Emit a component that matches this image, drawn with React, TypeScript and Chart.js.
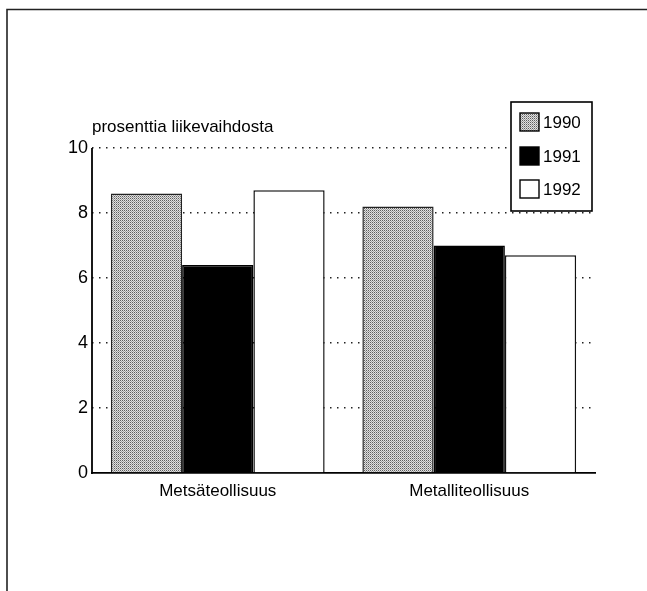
import React, { useEffect, useRef } from "react";
import { Chart, registerables } from "chart.js";

Chart.register(...registerables);

const categories = ["Metsäteollisuus", "Metalliteollisuus"];
const seriesLabels = ["1990", "1991", "1992"];
const values1990 = [8.6, 8.2];
const values1991 = [6.4, 7.0];
const values1992 = [8.7, 6.7];
const yTicks = [0, 2, 4, 6, 8, 10];
const yTitle = "prosenttia liikevaihdosta";

const FONT = '"Liberation Sans", Arial, Helvetica, sans-serif';

function makePattern(): CanvasPattern | string {
  const c = document.createElement("canvas");
  c.width = 2;
  c.height = 2;
  const g = c.getContext("2d");
  if (!g) return "#bdbdbd";
  g.fillStyle = "#e0e0e0";
  g.fillRect(0, 0, 2, 2);
  g.fillStyle = "#5e5e5e";
  g.fillRect(0, 0, 1, 1);
  g.fillStyle = "#a0a0a0";
  g.fillRect(1, 1, 1, 1);
  const p = g.createPattern(c, "repeat");
  return p || "#bdbdbd";
}

export default function App() {
  const ref = useRef<HTMLCanvasElement | null>(null);

  useEffect(() => {
    if (!ref.current) return;
    const pattern = makePattern();

    const fills = [pattern, "#000000", "#ffffff"];
    const borders = ["#222222", "#000000", "#111111"];

    const decor = {
      id: "decor",
      afterDatasetsDraw(chart: any) {
        const ctx = chart.ctx;
        const a = chart.chartArea;
        ctx.save();
        // y axis line
        ctx.strokeStyle = "#000";
        ctx.lineWidth = 1.8;
        ctx.beginPath();
        ctx.moveTo(a.left, a.top);
        ctx.lineTo(a.left, a.bottom + 0.9);
        ctx.stroke();
        ctx.restore();
      },
      afterDraw(chart: any) {
        const ctx = chart.ctx;
        const a = chart.chartArea;
        ctx.save();
        // outer frame (top and left)
        ctx.strokeStyle = "#222";
        ctx.lineWidth = 1.6;
        ctx.beginPath();
        ctx.moveTo(7, 591);
        ctx.lineTo(7, 9.5);
        ctx.lineTo(647, 9.5);
        ctx.stroke();

        // y title
        ctx.fillStyle = "#000";
        ctx.font = "17px " + FONT;
        ctx.textAlign = "left";
        ctx.textBaseline = "alphabetic";
        ctx.fillText(yTitle, a.left, a.top - 16);

        // legend
        const bx = 511, by = 102, bw = 81, bh = 109;
        ctx.lineWidth = 1.6;
        ctx.strokeStyle = "#000";
        ctx.fillStyle = "#fff";
        ctx.fillRect(bx, by, bw, bh);
        ctx.strokeRect(bx, by, bw, bh);
        const ds = chart.data.datasets;
        const rowY = [122, 156, 189];
        for (let i = 0; i < ds.length; i++) {
          const cy = rowY[i];
          ctx.fillStyle = ds[i].backgroundColor;
          ctx.fillRect(520, cy - 9, 19, 18);
          ctx.strokeStyle = "#000";
          ctx.lineWidth = 1.4;
          ctx.strokeRect(520, cy - 9, 19, 18);
          ctx.fillStyle = "#000";
          ctx.font = "17px " + FONT;
          ctx.textBaseline = "middle";
          ctx.fillText(ds[i].label, 543, cy + 1);
        }
        ctx.restore();
      },
    };

    const chart = new Chart(ref.current, {
      type: "bar",
      data: {
        labels: categories,
        datasets: [values1990, values1991, values1992].map((vals, i) => ({
          label: seriesLabels[i],
          data: vals,
          backgroundColor: fills[i] as any,
          borderColor: borders[i],
          borderWidth: 1.5,
          categoryPercentage: 0.85,
          barPercentage: 1.0,
        })),
      },
      options: {
        animation: false,
        responsive: false,
        layout: { padding: { top: 148, right: 52, left: 0, bottom: 0 } },
        plugins: {
          legend: { display: false },
          tooltip: { enabled: false },
          title: { display: false },
        },
        scales: {
          x: {
            grid: { display: false, drawTicks: false },
            border: { display: true, color: "#000", width: 1.8 },
            ticks: {
              color: "#000",
              font: { family: FONT, size: 17 },
              padding: 8,
              maxRotation: 0,
            },
            afterFit: (s: any) => {
              s.height = 118;
            },
          },
          y: {
            min: 0,
            max: 10,
            afterBuildTicks: (s: any) => {
              s.ticks = yTicks.map((v) => ({ value: v }));
            },
            grid: {
              color: (c: any) => (c.tick && c.tick.value === 0 ? "rgba(0,0,0,0)" : "#222"),
              lineWidth: 1.5,
              drawTicks: false,
            },
            border: { display: false, dash: [1.5, 5.5] },
            ticks: {
              color: "#000",
              font: { family: FONT, size: 18 },
              padding: 4,
            },
            afterFit: (s: any) => {
              s.width = 92;
            },
          },
        },
      },
      plugins: [decor],
    });

    return () => chart.destroy();
  }, []);

  return (
    <div style={{ position: "absolute", left: 0, top: 0, width: 647, height: 591, background: "#fff" }}>
      <canvas ref={ref} width={647} height={591} style={{ width: 647, height: 591, display: "block" }} />
    </div>
  );
}
